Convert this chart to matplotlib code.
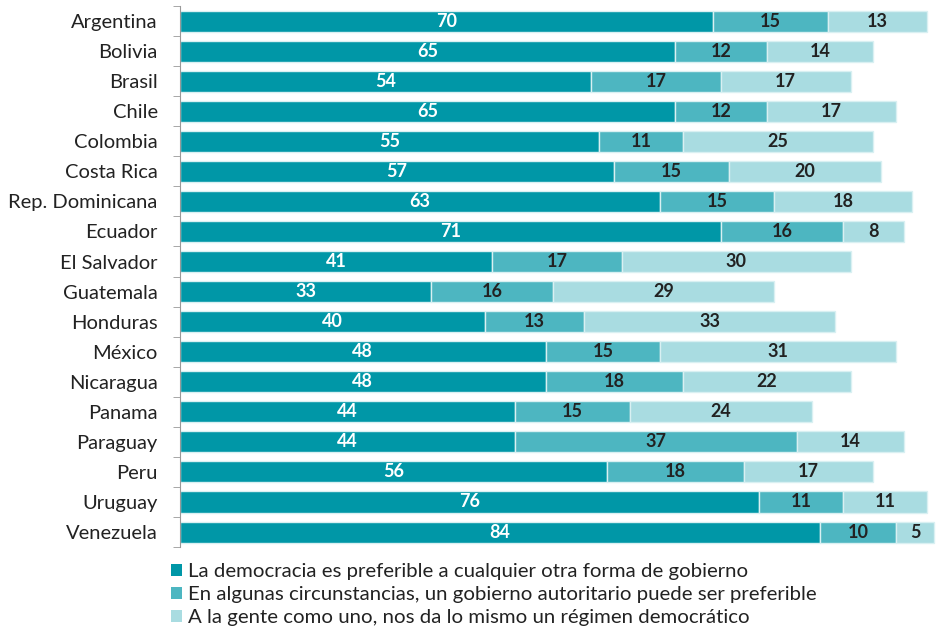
import matplotlib.pyplot as plt
import numpy as np
from matplotlib.patches import Patch

# Countries, top to bottom
paises = ["Argentina", "Bolivia", "Brasil", "Chile", "Colombia", "Costa Rica",
          "Rep. Dominicana", "Ecuador", "El Salvador", "Guatemala", "Honduras",
          "México", "Nicaragua", "Panama", "Paraguay", "Peru", "Uruguay", "Venezuela"]

democracia = [70, 65, 54, 65, 55, 57, 63, 71, 41, 33, 40, 48, 48, 44, 44, 56, 76, 84]
autoritario = [15, 12, 17, 12, 11, 15, 15, 16, 17, 16, 13, 15, 18, 15, 37, 18, 11, 10]
da_igual = [13, 14, 17, 17, 25, 20, 18, 8, 30, 29, 33, 31, 22, 24, 14, 17, 11, 5]

series_labels = [
    "La democracia es preferible a cualquier otra forma de gobierno",
    "En algunas circunstancias, un gobierno autoritario puede ser preferible",
    "A la gente como uno, nos da lo mismo un régimen democrático",
]
colors = ["#0097a7", "#4db6c1", "#a9dce1"]
text_colors = ["white", "#222222", "#222222"]

plt.rcParams["font.family"] = ["Lato", "DejaVu Sans"]

fig = plt.figure(figsize=(9.42, 6.31), dpi=100)
ax = fig.add_axes([0.191, 0.133, 0.809, 0.8575])

y = np.arange(len(paises))
left = np.zeros(len(paises))
for vals, col, tcol in zip([democracia, autoritario, da_igual], colors, text_colors):
    vals = np.array(vals)
    ax.barh(y, vals, left=left, height=0.7, color=col,
            edgecolor="#d9f0f2", linewidth=1)
    for yi, l, v in zip(y, left, vals):
        ax.text(l + v / 2, yi, str(v), ha="center", va="center",
                color=tcol, fontsize=13, fontweight="bold")
    left = left + vals

ax.set_xlim(0, 100)
ax.set_ylim(len(paises) - 0.5, -0.5)
ax.set_yticks(y)
ax.set_yticklabels(paises, fontsize=14.5, color="#222222")
ax.set_yticks(np.arange(-0.5, len(paises) + 0.5, 1), minor=True)
ax.tick_params(axis="y", which="major", length=0, pad=16)
ax.tick_params(axis="y", which="minor", length=5, color="#999999", direction="out")
ax.set_xticks([])
for s in ["top", "right", "bottom"]:
    ax.spines[s].set_visible(False)
ax.spines["left"].set_color("#999999")

handles = [Patch(facecolor=c, edgecolor="none") for c in colors]
fig.legend(handles, series_labels, loc="lower left", bbox_to_anchor=(0.168, -0.012),
           frameon=False, fontsize=14.7, handlelength=0.55, handleheight=0.55,
           handletextpad=0.3, labelspacing=0.3, borderaxespad=0.2,
           labelcolor="#222222")

fig.savefig("out.png", dpi=100)
